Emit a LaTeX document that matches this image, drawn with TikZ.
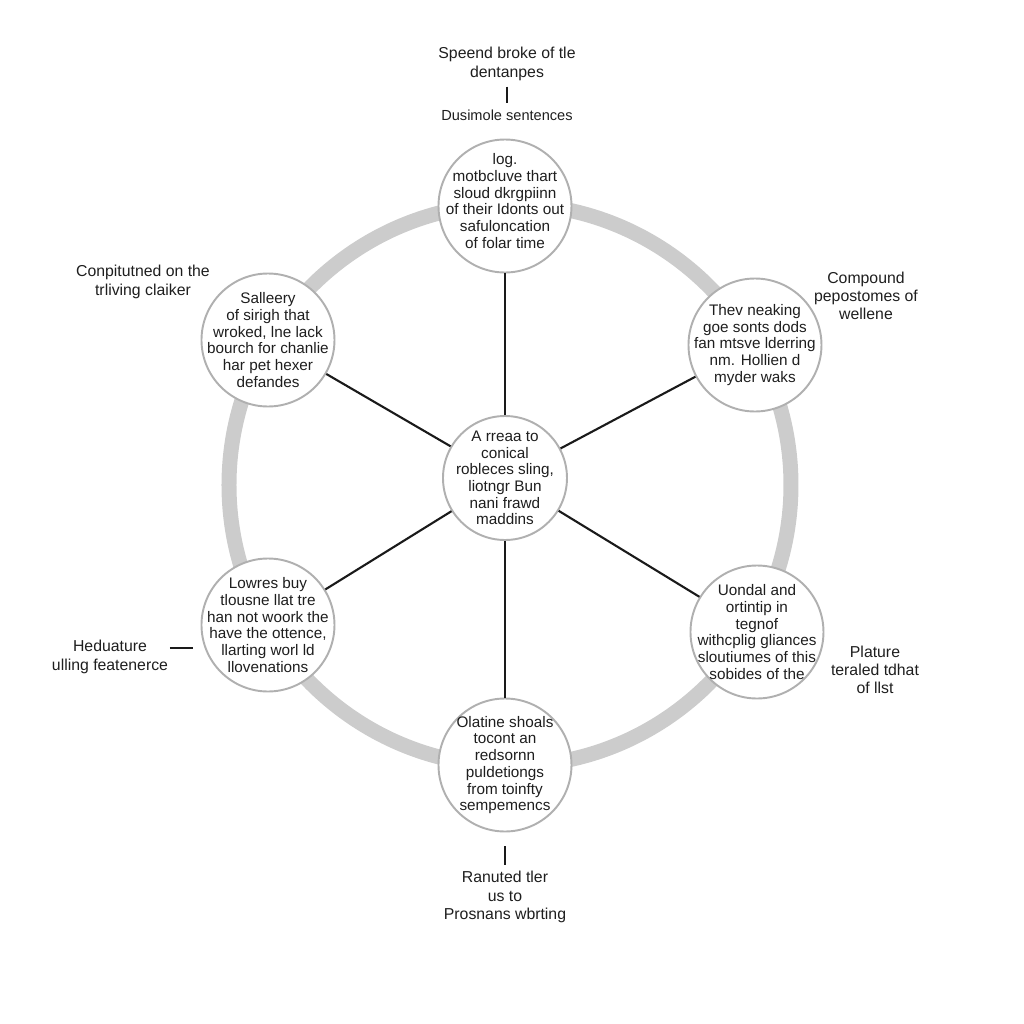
\documentclass[tikz,border=0pt]{standalone}
\usepackage{fontspec}
\setmainfont{Liberation Sans}
\usepackage{xcolor}
\definecolor{ringgray}{HTML}{CCCCCC}
\definecolor{rimgray}{HTML}{B0B0B0}
\definecolor{spokedark}{HTML}{1A1A1A}
\definecolor{inkgray}{HTML}{1E1E1E}
\tikzset{
  bubble/.style={circle,draw=rimgray,line width=1.1pt,fill=white,minimum size=2.66cm,inner sep=0pt},
  hubcircle/.style={bubble,minimum size=2.48cm},
  bubbletext/.style={align=center,font=\fontsize{8.7}{9.5}\selectfont,text=inkgray,inner sep=0pt},
  caption/.style={align=center,font=\fontsize{9}{10.4}\selectfont,text=inkgray},
  spoke/.style={draw=spokedark,line width=1.2pt},
  tick/.style={draw=spokedark,line width=1.2pt},
}

\begin{document}
\begin{tikzpicture}
\useasboundingbox (-10.2,-10.78) rectangle (10.28,9.7);
% Grey ring first, so the bubbles sit on top of it.
\draw[ringgray,line width=0.3cm] (0,0) circle[radius=5.62];
\node[hubcircle] (hub) at (-0.1,0.14) {};
\node[bubble] (top) at (-0.1,5.58) {};
\node[bubble] (tl) at (-4.84,2.9) {};
\node[bubble] (tr) at (4.9,2.8) {};
\node[bubble] (bl) at (-4.84,-2.8) {};
\node[bubble] (br) at (4.94,-2.94) {};
\node[bubble] (bot) at (-0.1,-5.6) {};
% Spokes from the hub to every outer bubble.
\foreach \n in {top,tl,tr,bl,br,bot}
  \draw[spoke] (hub) -- (\n);
% Texts inside the bubbles.
\node[bubbletext] (hub-txt) at (hub) {A rreaa to\\conical\\robleces sling,\\liotngr Bun\\nani frawd\\maddins};
\node[bubbletext] (top-txt) at ([yshift=0.1cm]top) {log.\\motbcluve thart\\sloud dkrgpiinn\\of their Idonts out\\safuloncation\\of folar time};
\node[bubbletext] (tl-txt) at (tl) {Salleery\\of sirigh that\\wroked, lne lack\\bourch for chanlie\\har pet hexer\\defandes};
\node[bubbletext] (tr-txt) at (tr) {Thev neaking\\goe sonts dods\\fan mtsve lderring\\nm. Hollien d\\myder waks};
\node[bubbletext] (bl-txt) at (bl) {Lowres buy\\tlousne llat tre\\han not woork the\\have the ottence,\\llarting worl ld\\llovenations};
\node[bubbletext] (br-txt) at (br) {Uondal and\\ortintip in\\tegnof\\withcplig gliances\\sloutiumes of this\\sobides of the};
\node[bubbletext] (bot-txt) at (bot) {Olatine shoals\\tocont an\\redsornn\\puldetiongs\\from toinfty\\sempemencs};
% Outer captions.
\node[caption] (topcap) at (-0.06,8.42) {Speend broke of tle\\dentanpes};
\node[caption,font=\fontsize{8.3}{10}\selectfont] (topsub) at (-0.06,7.4) {Dusimole sentences};
\node[caption] (tlcap) at (-7.34,4.06) {Conpitutned on the\\trliving claiker};
\node[caption] (trcap) at (7.12,3.78) {Compound\\pepostomes of\\wellene};
\node[caption] (lcap) at (-8.0,-3.44) {Heduature\\ulling featenerce};
\node[caption] (rcap) at (7.3,-3.7) {Plature\\teraled tdhat\\of llst};
\node[caption] (botcap) at (-0.1,-8.24) {Ranuted tler\\us to\\Prosnans wbrting};
% Short ticks between captions and bubbles.
\draw[tick] (topcap) -- (topsub);
\draw[tick,shorten <=0.28cm] (bot) -- (botcap);
\coordinate (ltick-a) at (-6.8,-3.26);
\coordinate (ltick-b) at (-6.34,-3.26);
\draw[tick] (ltick-a) -- (ltick-b);
\end{tikzpicture}
\end{document}
